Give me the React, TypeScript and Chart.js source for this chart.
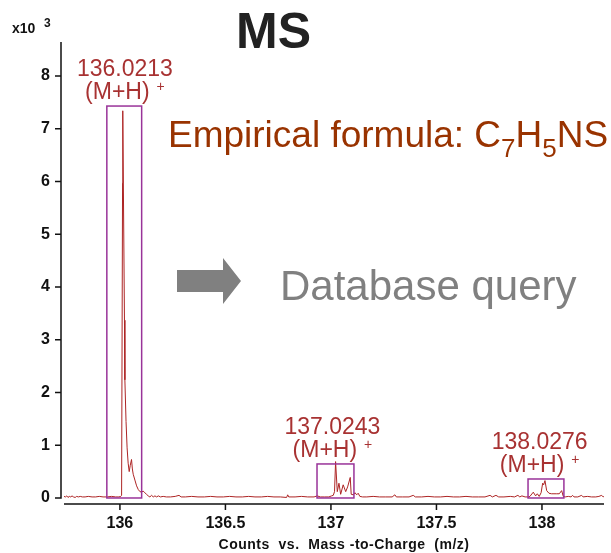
import React, { useEffect, useRef } from "react";
import { Chart, registerables } from "chart.js";

Chart.register(...registerables);

const FONT = "'Liberation Sans', Arial, Helvetica, sans-serif";

// m/z values and counts (x10^3)
const mz = [
  135.735, 135.742, 135.748, 135.754, 135.76, 135.767, 135.773, 135.78, 135.788, 135.795,
  135.803, 135.812, 135.822, 135.835, 135.85, 135.868, 135.885, 135.902, 135.92, 135.94,
  135.96, 135.98, 135.995, 136.004, 136.008, 136.0125, 136.0135, 136.0215, 136.0235, 136.029,
  136.034, 136.039, 136.044, 136.049, 136.055, 136.059, 136.063, 136.071, 136.079, 136.087,
  136.095, 136.103, 136.11, 136.118, 136.126, 136.134, 136.142, 136.15, 136.158, 136.166,
  136.174, 136.182, 136.192, 136.205, 136.22, 136.24, 136.262, 136.28, 136.29, 136.31,
  136.34, 136.37, 136.4, 136.43, 136.46, 136.49, 136.52, 136.55, 136.58, 136.61,
  136.64, 136.67, 136.7, 136.73, 136.76, 136.79, 136.795, 136.8, 136.83, 136.86,
  136.89, 136.92, 136.935, 136.95, 136.97, 136.99, 137.003, 137.011, 137.017, 137.022,
  137.03, 137.038, 137.046, 137.058, 137.07, 137.079, 137.0915, 137.096, 137.106, 137.114,
  137.122, 137.129, 137.137, 137.15, 137.17, 137.2, 137.23, 137.26, 137.29, 137.303,
  137.31, 137.34, 137.37, 137.39, 137.4, 137.43, 137.46, 137.49, 137.52, 137.55,
  137.58, 137.61, 137.64, 137.67, 137.7, 137.73, 137.754, 137.765, 137.782, 137.795,
  137.82, 137.85, 137.87, 137.886, 137.895, 137.905, 137.92, 137.935, 137.943, 137.9588,
  137.97, 137.978, 137.987, 137.996, 138.0033, 138.0081, 138.0142, 138.0223, 138.0332, 138.045,
  138.057, 138.07, 138.082, 138.0934, 138.1009, 138.11, 138.125, 138.138, 138.145, 138.152,
  138.17, 138.188, 138.195, 138.215, 138.235, 138.255, 138.27, 138.283, 138.29, 138.294,
];
const counts = [
  0.03, 0.02, 0.04, 0.01, 0.03, 0.02, 0.04, 0.02, 0.01, 0.03,
  0.02, 0.03, 0.02, 0.02, 0.03, 0.02, 0.02, 0.03, 0.02, 0.02,
  0.03, 0.02, 0.02, 0.03, 0.05, 5.97, 7.34, 3.37, 2.24, 1.45,
  0.95, 0.66, 0.5, 0.62, 0.73, 0.55, 0.45, 0.34, 0.23, 0.16,
  0.12, 0.11, 0.13, 0.1, 0.07, 0.04, 0.02, 0.05, 0.02, 0.04,
  0.02, 0.04, 0.02, 0.03, 0.02, 0.02, 0.03, 0.05, 0.02, 0.02,
  0.03, 0.02, 0.02, 0.03, 0.02, 0.02, 0.03, 0.02, 0.02, 0.03,
  0.02, 0.02, 0.03, 0.02, 0.02, 0.01, 0.06, 0.02, 0.02, 0.03,
  0.02, 0.02, 0.04, 0.02, 0.02, 0.02, 0.04, 0.05, 0.12, 0.69,
  0.12, 0.28, 0.07, 0.25, 0.12, 0.21, 0.39, 0.07, 0.06, 0.1,
  0.06, 0.09, 0.03, 0.02, 0.02, 0.03, 0.02, 0.02, 0.02, 0.06,
  0.02, 0.02, 0.02, 0.05, 0.02, 0.02, 0.03, 0.02, 0.02, 0.03,
  0.02, 0.02, 0.03, 0.02, 0.02, 0.02, 0.05, 0.02, 0.05, 0.02,
  0.02, 0.03, 0.02, 0.05, 0.02, 0.04, 0.02, 0.02, 0.03, 0.11,
  0.04, 0.08, 0.03, 0.1, 0.28, 0.25, 0.33, 0.14, 0.09, 0.08,
  0.08, 0.08, 0.08, 0.14, 0.03, 0.02, 0.03, 0.02, 0.05, 0.02,
  0.02, 0.05, 0.02, 0.03, 0.02, 0.02, 0.03, 0.05, 0.02, 0.03,
];

const xTicks = [136, 136.5, 137, 137.5, 138];
const yTicks = [0, 1, 2, 3, 4, 5, 6, 7, 8];

const peakLabels = ["136.0213", "137.0243", "138.0276"];
const peakIon = "(M+H)";
const peakLabelMz = [136.0237, 137.0071, 137.9891];
const boxStart = [135.938, 136.934, 137.934];
const boxEnd = [136.103, 137.109, 138.104];
const boxTop = [7.43, 0.645, 0.36];

const titleText = "MS";
const scaleText = "x10";
const scaleExp = "3";
const formulaParts: [string, boolean][] = [
  ["Empirical formula: C", false],
  ["7", true],
  ["H", false],
  ["5", true],
  ["NS", false],
];
const queryText = "Database query";
const xTitleText = "Counts  vs.  Mass -to-Charge  (m/z)";

const LINE_COLOR = "#ad2424";
const LABEL_COLOR = "#a83232";
const BOX_COLOR = "#993399";
const AXIS_COLOR = "#111111";

const decorPlugin = {
  id: "msDecor",
  afterDatasetsDraw(chart: any) {
    const { ctx, scales } = chart;
    const xs = scales.x;
    const ys = scales.y;
    ctx.save();
    ctx.strokeStyle = BOX_COLOR;
    ctx.lineWidth = 1.5;
    for (let i = 0; i < boxStart.length; i++) {
      const x0 = xs.getPixelForValue(boxStart[i]);
      const x1 = xs.getPixelForValue(boxEnd[i]);
      const yt = ys.getPixelForValue(boxTop[i]);
      const yb = ys.getPixelForValue(0);
      ctx.strokeRect(x0, yt, x1 - x0, yb - yt);

      // labels
      const cx = xs.getPixelForValue(peakLabelMz[i]);
      ctx.fillStyle = LABEL_COLOR;
      ctx.textBaseline = "alphabetic";
      ctx.textAlign = "center";
      ctx.font = `23px ${FONT}`;
      ctx.fillText(peakLabels[i], cx, yt - 30);
      const w1 = ctx.measureText(peakIon).width;
      ctx.font = `14px ${FONT}`;
      const w2 = ctx.measureText("+").width;
      const gap = 7;
      const start = cx - (w1 + gap + w2) / 2;
      ctx.textAlign = "left";
      ctx.font = `23px ${FONT}`;
      ctx.fillText(peakIon, start, yt - 7);
      ctx.font = `14px ${FONT}`;
      ctx.fillText("+", start + w1 + gap, yt - 15);
    }
    ctx.restore();
  },
  afterDraw(chart: any) {
    const { ctx, chartArea, scales } = chart;
    const xs = scales.x;
    const ys = scales.y;
    ctx.save();
    // axes
    ctx.strokeStyle = AXIS_COLOR;
    ctx.lineWidth = 1.5;
    const yAxisX = chartArea.left - 3;
    const y0 = ys.getPixelForValue(0);
    ctx.beginPath();
    ctx.moveTo(yAxisX, chartArea.top);
    ctx.lineTo(yAxisX, y0 + 0.75);
    for (const t of yTicks) {
      const py = ys.getPixelForValue(t);
      ctx.moveTo(yAxisX - 6, py);
      ctx.lineTo(yAxisX, py);
    }
    ctx.moveTo(chartArea.left, chartArea.bottom);
    ctx.lineTo(chartArea.right, chartArea.bottom);
    for (const t of xTicks) {
      const px = xs.getPixelForValue(t);
      ctx.moveTo(px, chartArea.bottom);
      ctx.lineTo(px, chartArea.bottom + 6);
    }
    ctx.stroke();

    // x10^3
    ctx.fillStyle = AXIS_COLOR;
    ctx.textAlign = "left";
    ctx.textBaseline = "alphabetic";
    ctx.font = `bold 14px ${FONT}`;
    ctx.fillText(scaleText, 12, 33);
    ctx.font = `bold 12px ${FONT}`;
    ctx.fillText(scaleExp, 44, 27);

    // x axis title
    ctx.font = `bold 14px ${FONT}`;
    (ctx as any).letterSpacing = "0.5px";
    ctx.textAlign = "center";
    ctx.fillText(xTitleText, 344, 549);
    (ctx as any).letterSpacing = "0px";

    // Title
    ctx.fillStyle = "#222222";
    ctx.font = `bold 50px ${FONT}`;
    ctx.textAlign = "center";
    ctx.fillText(titleText, 273.5, 48);

    // Empirical formula
    ctx.fillStyle = "#993300";
    ctx.textAlign = "left";
    let fx = 168;
    for (const [txt, sub] of formulaParts) {
      ctx.font = sub ? `26px ${FONT}` : `37px ${FONT}`;
      ctx.fillText(txt, fx, sub ? 157 : 147);
      fx += ctx.measureText(txt).width;
    }

    // Arrow
    ctx.fillStyle = "#808080";
    ctx.beginPath();
    ctx.moveTo(177, 270);
    ctx.lineTo(223, 270);
    ctx.lineTo(223, 258);
    ctx.lineTo(241, 281);
    ctx.lineTo(223, 304);
    ctx.lineTo(223, 292);
    ctx.lineTo(177, 292);
    ctx.closePath();
    ctx.fill();

    // Database query
    ctx.font = `42px ${FONT}`;
    ctx.fillText(queryText, 280, 300);
    ctx.restore();
  },
};

export default function App() {
  const canvasRef = useRef<HTMLCanvasElement | null>(null);

  useEffect(() => {
    if (!canvasRef.current) return;
    const points = mz.map((x, i) => ({ x, y: counts[i] }));
    const tickFont = { family: FONT, size: 16, weight: "bold" as const };
    const chart = new Chart(canvasRef.current, {
      type: "line",
      data: {
        datasets: [
          {
            data: points,
            borderColor: LINE_COLOR,
            borderWidth: 1,
            pointRadius: 0,
            tension: 0,
            fill: false,
          },
        ],
      },
      options: {
        responsive: false,
        animation: false,
        layout: { padding: { left: 0, right: 7, top: 42, bottom: 0 } },
        plugins: {
          legend: { display: false },
          tooltip: { enabled: false },
        },
        scales: {
          x: {
            type: "linear",
            min: 135.735,
            max: 138.294,
            grid: { display: false, drawTicks: false },
            border: { display: false },
            afterBuildTicks: (s: any) => {
              s.ticks = xTicks.map((v) => ({ value: v }));
            },
            afterFit: (s: any) => {
              s.height = 49;
            },
            ticks: {
              font: tickFont,
              color: AXIS_COLOR,
              padding: 10,
              maxRotation: 0,
              autoSkip: false,
              callback: (v: any) => String(v),
            },
          },
          y: {
            type: "linear",
            min: -0.114,
            max: 8.644,
            grid: { display: false, drawTicks: false },
            border: { display: false },
            afterBuildTicks: (s: any) => {
              s.ticks = yTicks.map((v) => ({ value: v }));
            },
            afterFit: (s: any) => {
              s.width = 64;
            },
            ticks: {
              font: tickFont,
              color: AXIS_COLOR,
              padding: 14,
              autoSkip: false,
              callback: (v: any) => String(v),
            },
          },
        },
      },
      plugins: [decorPlugin],
    });
    return () => chart.destroy();
  }, []);

  return (
    <div style={{ position: "fixed", left: 0, top: 0, width: 611, height: 553, background: "#fff" }}>
      <canvas ref={canvasRef} width={611} height={553} style={{ display: "block" }} />
    </div>
  );
}
